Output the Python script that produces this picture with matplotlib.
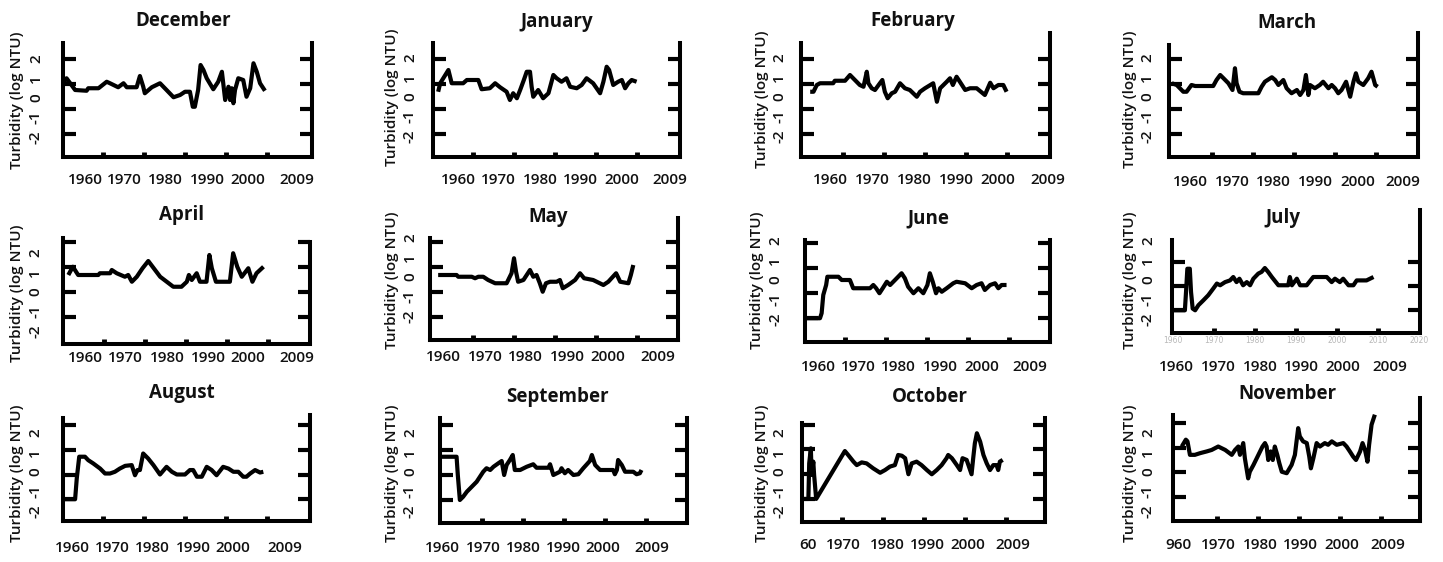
import matplotlib
matplotlib.use("Agg")
import matplotlib.pyplot as plt

W, H = 1443, 562

# ---- turbidity series (year, log NTU) for each month ----
december_years = [1950.2, 1951.1, 1952.0, 1953.2, 1956.0, 1956.4, 1958.9, 1960.9, 1961.7, 1963.7, 1965.0,
                  1965.8, 1968.2, 1969.0, 1969.8, 1970.2, 1971.9, 1973.9, 1975.5, 1977.2, 1978.8, 1980.0,
                  1981.2, 1981.9, 1982.4, 1983.2, 1983.8, 1984.5, 1985.3, 1986.9, 1988.1, 1989.0, 1989.8,
                  1990.6, 1991.0, 1991.4, 1991.8, 1992.2, 1993.0, 1994.2, 1995.0, 1995.9, 1996.7, 1997.5,
                  1998.3, 1999.5]
december_turbidity = [1.03, 1.23, 1.03, 0.76, 0.73, 0.83, 0.83, 1.09, 1.03, 0.87, 1.03,
                      0.87, 0.87, 1.32, 0.90, 0.63, 0.87, 1.03, 0.76, 0.47, 0.56, 0.69,
                      0.69, 0.09, 0.09, 0.76, 1.76, 1.56, 1.23, 0.79, 1.09, 1.49, 0.36,
                      0.89, 0.36, 0.83, 0.23, 0.76, 1.23, 1.16, 0.49, 0.83, 1.83, 1.49,
                      1.03, 0.73]

january_years = [1951.5, 1952.0, 1954.0, 1954.8, 1957.6, 1958.5, 1961.3, 1962.1, 1964.1, 1965.4, 1966.6,
                 1968.2, 1969.0, 1969.8, 1970.7, 1971.5, 1972.4, 1973.1, 1973.9, 1974.3, 1974.7, 1975.9,
                 1977.1, 1978.4, 1979.6, 1980.4, 1981.6, 1982.8, 1983.7, 1985.3, 1986.5, 1987.7, 1989.3,
                 1991.0, 1991.8, 1992.6, 1993.2, 1994.2, 1995.4, 1996.3, 1997.1, 1997.9, 1998.7, 1999.9]
january_turbidity = [0.69, 1.03, 1.56, 1.03, 1.03, 1.16, 1.16, 0.79, 0.83, 1.03, 0.87,
                     0.69, 0.36, 0.63, 0.43, 0.76, 1.16, 1.49, 1.49, 0.89, 0.49, 0.76,
                     0.43, 0.63, 1.36, 1.23, 1.09, 1.23, 0.89, 0.83, 0.96, 1.23, 1.03,
                     0.63, 1.09, 1.69, 1.56, 0.96, 1.09, 1.16, 0.83, 1.03, 1.16, 1.09]

february_years = [1952.0, 1952.8, 1953.6, 1954.4, 1957.6, 1958.0, 1960.5, 1961.7, 1962.9, 1964.1, 1965.0,
                  1965.8, 1966.2, 1967.0, 1967.8, 1969.0, 1969.6, 1970.2, 1970.9, 1971.9, 1972.7, 1973.9,
                  1975.1, 1976.3, 1978.0, 1978.8, 1980.0, 1982.0, 1982.9, 1983.7, 1985.3, 1986.1, 1986.8,
                  1987.7, 1988.5, 1989.8, 1991.0, 1992.6, 1994.6, 1995.9, 1996.7, 1997.9, 1999.1, 1999.9]
february_turbidity = [0.69, 0.69, 0.96, 1.03, 1.03, 1.13, 1.13, 1.36, 1.16, 0.96, 0.89,
                      1.49, 1.03, 0.83, 0.76, 1.03, 1.16, 0.69, 0.43, 0.63, 0.69, 1.03,
                      0.83, 0.76, 0.49, 0.69, 0.83, 1.03, 0.29, 0.83, 1.09, 1.23, 0.96,
                      1.29, 1.09, 0.76, 0.83, 0.83, 0.56, 1.05, 0.83, 0.96, 0.96, 0.69]

march_years = [1950.2, 1951.4, 1953.0, 1953.8, 1955.0, 1955.9, 1960.3, 1961.1, 1962.0, 1962.8, 1964.0,
               1965.0, 1965.6, 1966.0, 1966.7, 1967.6, 1971.3, 1972.1, 1972.9, 1974.6, 1975.4, 1976.2,
               1977.4, 1978.2, 1979.4, 1980.7, 1981.5, 1982.3, 1982.9, 1983.5, 1983.9, 1985.1, 1986.3,
               1987.1, 1988.4, 1989.2, 1990.0, 1990.8, 1991.6, 1992.7, 1993.7, 1994.5, 1995.1, 1995.7,
               1996.9, 1998.1, 1998.9, 1999.8, 2000.4]
march_turbidity = [1.03, 0.96, 0.69, 0.69, 0.96, 0.92, 0.92, 1.16, 1.36, 1.23, 1.03,
                   0.76, 1.63, 1.03, 0.69, 0.63, 0.63, 0.89, 1.09, 1.27, 1.16, 0.96,
                   1.16, 0.83, 0.63, 0.76, 0.56, 0.76, 1.36, 0.56, 0.96, 0.83, 0.96,
                   1.09, 0.83, 0.96, 0.83, 0.63, 0.76, 1.09, 0.49, 1.09, 1.43, 1.09,
                   0.96, 1.23, 1.49, 0.96, 0.89]

april_years = [1951.3, 1952.4, 1953.7, 1958.6, 1959.0, 1961.5, 1961.9, 1963.1, 1965.1, 1965.9, 1966.8,
               1968.0, 1969.4, 1970.8, 1973.7, 1975.3, 1976.9, 1978.9, 1980.2, 1980.7, 1981.4, 1982.6,
               1983.4, 1985.0, 1985.7, 1986.3, 1987.3, 1990.7, 1991.5, 1992.5, 1993.6, 1995.2, 1996.2,
               1997.2, 1998.9]
april_turbidity = [0.68, 1.01, 0.68, 0.68, 0.75, 0.75, 0.88, 0.75, 0.61, 0.68, 0.41,
                   0.61, 0.95, 1.24, 0.61, 0.41, 0.21, 0.21, 0.41, 0.68, 0.48, 0.75,
                   0.41, 0.41, 1.48, 0.95, 0.41, 0.41, 1.55, 1.01, 0.61, 0.95, 0.41,
                   0.75, 1.01]

may_years = [1951.5, 1956.0, 1956.4, 1959.7, 1960.5, 1961.3, 1962.5, 1963.7, 1965.4, 1968.2, 1969.4,
             1970.0, 1970.5, 1971.0, 1972.3, 1973.9, 1974.7, 1975.5, 1976.3, 1977.0, 1977.8, 1978.8,
             1980.4, 1981.2, 1981.9, 1983.2, 1984.9, 1986.1, 1987.1, 1989.3, 1991.8, 1993.0, 1994.9,
             1995.9, 1997.9, 1998.5, 1999.1]
may_turbidity = [0.68, 0.68, 0.61, 0.61, 0.55, 0.61, 0.61, 0.48, 0.35, 0.35, 0.75,
                 1.35, 0.81, 0.41, 0.48, 0.88, 0.61, 0.68, 0.35, 0.01, 0.35, 0.41,
                 0.41, 0.48, 0.15, 0.28, 0.48, 0.75, 0.55, 0.48, 0.28, 0.41, 0.75,
                 0.41, 0.35, 0.68, 1.08]

june_years = [1950.2, 1953.9, 1954.3, 1954.7, 1955.4, 1955.7, 1958.4, 1959.2, 1961.2, 1962.0, 1966.1,
              1966.9, 1967.6, 1968.4, 1969.2, 1970.2, 1971.0, 1972.2, 1973.8, 1974.6, 1975.4, 1976.7,
              1977.9, 1979.1, 1980.1, 1980.7, 1981.4, 1982.2, 1982.8, 1983.6, 1984.8, 1986.4, 1987.2,
              1989.3, 1990.9, 1992.1, 1993.3, 1994.1, 1995.4, 1996.6, 1997.4, 1998.2, 1999.4]
june_turbidity = [-1.01, -1.01, -0.81, -0.08, 0.32, 0.65, 0.65, 0.52, 0.52, 0.19, 0.19,
                  0.32, 0.19, -0.01, 0.19, 0.45, 0.32, 0.52, 0.79, 0.59, 0.25, -0.01,
                  0.19, -0.01, 0.32, 0.79, 0.45, -0.01, 0.19, 0.05, 0.19, 0.39, 0.45,
                  0.39, 0.19, 0.32, 0.39, 0.12, 0.32, 0.39, 0.19, 0.32, 0.32]

july_years = [1959.7, 1962.9, 1963.2, 1963.5, 1964.1, 1964.4, 1964.8, 1965.4, 1966.2, 1967.4, 1968.6,
              1969.8, 1970.7, 1971.5, 1972.7, 1973.9, 1974.7, 1975.5, 1976.2, 1977.1, 1978.0, 1978.8,
              1979.6, 1980.8, 1981.6, 1982.4, 1983.2, 1984.1, 1985.7, 1988.1, 1988.5, 1989.0, 1990.2,
              1991.0, 1992.6, 1994.2, 1997.5, 1998.7, 1999.5, 2000.7, 2001.5, 2002.8, 2004.0, 2004.8,
              2007.2, 2008.9]
july_turbidity = [-1.00, -1.00, -0.18, 0.71, 0.71, -0.25, -0.93, -1.00, -0.79, -0.59, -0.38,
                  -0.11, 0.10, 0.03, 0.16, 0.23, 0.37, 0.16, 0.30, 0.03, 0.16, 0.03,
                  0.30, 0.51, 0.58, 0.74, 0.58, 0.37, 0.03, 0.03, 0.37, 0.03, 0.30,
                  0.03, 0.03, 0.37, 0.37, 0.16, 0.30, 0.16, 0.30, 0.03, 0.03, 0.23,
                  0.23, 0.37]

august_years = [1950.3, 1953.2, 1953.6, 1954.2, 1955.6, 1956.4, 1957.6, 1959.3, 1960.5, 1961.7, 1962.9,
                1964.1, 1965.4, 1967.0, 1967.8, 1968.4, 1969.0, 1969.8, 1971.0, 1972.3, 1973.9, 1975.5,
                1976.8, 1978.0, 1980.0, 1981.2, 1982.0, 1982.9, 1984.1, 1985.3, 1986.5, 1987.7, 1989.3,
                1990.6, 1991.8, 1993.0, 1994.2, 1995.0, 1995.9, 1997.1, 1998.3, 1999.1]
august_turbidity = [-1.00, -1.00, -0.16, 0.72, 0.72, 0.58, 0.45, 0.24, 0.04, 0.04, 0.11,
                    0.24, 0.35, 0.38, -0.03, 0.18, 0.18, 0.85, 0.65, 0.38, 0.00, 0.31,
                    0.11, 0.00, 0.00, 0.18, 0.18, -0.09, -0.09, 0.31, 0.18, -0.03, 0.31,
                    0.24, 0.11, 0.11, -0.09, -0.09, 0.04, 0.18, 0.08, 0.11]

september_years = [1950.2, 1953.8, 1954.1, 1954.6, 1955.4, 1956.3, 1957.5, 1958.7, 1959.5, 1960.3, 1961.1,
                   1962.0, 1962.8, 1964.0, 1964.8, 1965.4, 1966.0, 1966.8, 1967.5, 1968.0, 1969.3, 1970.9,
                   1972.5, 1973.3, 1976.2, 1976.6, 1977.4, 1979.0, 1979.4, 1980.2, 1981.0, 1982.3, 1983.5,
                   1984.7, 1986.3, 1986.8, 1987.6, 1988.8, 1992.0, 1992.4, 1992.9, 1993.2, 1994.1, 1994.9,
                   1996.9, 1997.7, 1998.5, 1998.9]
september_turbidity = [0.73, 0.73, 0.00, -1.00, -0.87, -0.67, -0.47, -0.27, -0.07, 0.13, 0.27,
                       0.20, 0.33, 0.47, 0.56, 0.00, 0.40, 0.60, 0.80, 0.20, 0.20, 0.33,
                       0.43, 0.29, 0.29, 0.43, 0.00, 0.13, 0.27, 0.07, 0.20, 0.00, 0.03,
                       0.27, 0.56, 0.80, 0.40, 0.20, 0.20, 0.03, 0.20, 0.60, 0.40, 0.13,
                       0.13, 0.03, 0.07, 0.20]

october_years = [1950.2, 1951.8, 1952.0, 1952.4, 1952.6, 1953.0, 1953.2, 1953.7, 1960.7, 1961.5, 1962.8,
                 1963.6, 1964.8, 1966.0, 1967.6, 1969.3, 1970.5, 1971.7, 1972.9, 1973.7, 1974.6, 1975.4,
                 1976.2, 1977.0, 1978.2, 1979.4, 1980.7, 1981.9, 1983.1, 1984.3, 1985.5, 1985.9, 1986.8,
                 1988.0, 1988.8, 1989.4, 1990.4, 1991.6, 1992.0, 1992.4, 1992.9, 1993.7, 1994.5, 1995.3,
                 1996.1, 1996.9, 1997.7, 1998.1, 1998.5, 1999.2]
october_turbidity = [-1.01, -1.01, 0.43, 1.04, -0.04, 0.50, -0.04, -1.01, 0.93, 0.77, 0.50,
                     0.36, 0.47, 0.43, 0.23, 0.05, 0.16, 0.30, 0.36, 0.77, 0.74, 0.64,
                     -0.01, 0.43, 0.50, 0.36, 0.16, -0.01, 0.16, 0.36, 0.64, 0.77, 0.64,
                     0.36, 0.16, 0.64, 0.57, -0.01, 0.64, 1.24, 1.65, 1.31, 0.77, 0.43,
                     0.16, 0.36, 0.36, 0.16, 0.50, 0.57]

november_years = [1951.4, 1952.4, 1952.8, 1953.4, 1954.6, 1955.9, 1957.5, 1958.7, 1960.3, 1962.0, 1963.6,
                  1964.4, 1965.2, 1965.6, 1966.4, 1966.8, 1967.2, 1967.6, 1968.0, 1968.9, 1970.1, 1971.1,
                  1971.7, 1972.1, 1972.5, 1973.1, 1973.6, 1974.1, 1974.7, 1975.2, 1975.8, 1977.0, 1978.2,
                  1979.0, 1979.4, 1979.8, 1980.2, 1981.0, 1981.9, 1982.5, 1982.9, 1983.5, 1984.3, 1985.1,
                  1986.3, 1987.1, 1988.0, 1989.2, 1990.8, 1991.6, 1992.4, 1993.2, 1993.9, 1994.9, 1995.5,
                  1996.1, 1996.7, 1997.1, 1997.7, 1998.5]
november_turbidity = [1.04, 1.32, 1.25, 0.70, 0.70, 0.77, 0.84, 0.90, 1.04, 0.90, 0.70,
                      0.90, 1.04, 0.70, 1.18, 0.56, 0.15, -0.26, 0.01, 0.29, 0.70, 1.04,
                      1.18, 1.04, 0.49, 0.84, 0.49, 1.04, 0.70, 0.36, 0.01, -0.05, 0.29,
                      0.70, 1.25, 1.79, 1.45, 1.25, 1.18, 0.63, 0.15, 0.56, 1.18, 1.04,
                      1.18, 1.11, 1.25, 1.11, 1.18, 1.04, 0.84, 0.63, 0.49, 0.84, 1.18,
                      0.90, 0.42, 1.11, 1.93, 2.34]

month_names = ["December", "January", "February", "March",
               "April", "May", "June", "July",
               "August", "September", "October", "November"]
series = [(december_years, december_turbidity), (january_years, january_turbidity),
          (february_years, february_turbidity), (march_years, march_turbidity),
          (april_years, april_turbidity), (may_years, may_turbidity),
          (june_years, june_turbidity), (july_years, july_turbidity),
          (august_years, august_turbidity), (september_years, september_turbidity),
          (october_years, october_turbidity), (november_years, november_turbidity)]

y_tick_values = [2, 1, 0, -1]
y_number_labels = ["2", "1", "0", "-1", "-2"]
x_row_labels = ["1960", "1970", "1980", "1990", "2000", "2009"]

# ---- panel geometry in pixels ----
# L, R, top of left spine, top of right spine, bottom, pixel of y=0, px per unit,
# pixel of first decade tick, year of first decade tick, px per decade
boxes = [
    (63, 312, 43, 43, 157, 109, 25.0, 103, 1960, 41),
    (433, 680, 43, 43, 157, 109, 25.0, 473, 1960, 41),
    (801, 1050, 43, 33, 157, 109, 25.0, 843, 1960, 41),
    (1169, 1418, 45, 33, 157, 109, 25.0, 1212, 1960, 41),
    (63, 310, 238, 242, 344, 292, 25.0, 104, 1960, 41),
    (430, 678, 238, 218, 340, 292, 25.0, 473, 1960, 41),
    (805, 1050, 240, 240, 342, 293, 25.0, 845, 1960, 41),
    (1172, 1420, 240, 210, 333, 286, 24.3, 1214, 1970, 41),
    (63, 310, 418, 415, 521, 474.5, 24.7, 103, 1960, 41),
    (440, 687, 418, 418, 523, 475, 25.0, 482, 1960, 41),
    (802, 1045, 423, 418, 522, 474, 24.7, 842, 1960, 41),
    (1173, 1420, 415, 398, 521, 472, 24.5, 1217, 1960, 41),
]
# title centre, "Turbidity" label centre, number column centre
title_pos = [(183, 21), (557, 22), (913, 21), (1287, 23),
             (182, 215), (548, 217), (928, 218), (1283, 218),
             (182, 393), (557, 397), (930, 397), (1287, 394)]
ylabel_pos = [(17, 100), (392, 97), (762, 99), (1130, 99),
              (17, 293), (392, 280), (757, 280), (1130, 280),
              (17, 473), (392, 473), (762, 473), (1130, 473)]
number_pos = [(36, 98), (410, 97), (779, 97), (1147, 97),
              (35, 292), (410, 277), (775, 280), (1148, 280),
              (35, 472), (410, 472), (779, 472), (1148, 472)]
# year row under each panel: centres of the six labels and row height
row_x = [[85, 124, 165, 207, 248, 297], [458, 498, 540, 580, 622, 670],
         [830, 872, 914, 956, 998, 1048], [1190, 1232, 1273, 1315, 1358, 1403],
         [85, 125, 167, 208, 248, 297], [443, 485, 525, 567, 608, 658],
         [818, 858, 898, 940, 982, 1030], [1176, 1218, 1260, 1301, 1343, 1390],
         [72, 112, 152, 193, 233, 285], [442, 483, 523, 563, 603, 652],
         [808, 843, 887, 927, 968, 1013], [1178, 1218, 1260, 1300, 1342, 1388]]
row_y = [180, 180, 180, 182, 358, 357, 367, 367, 548, 548, 545, 545]
first_label_override = {10: "60", 11: "960"}

FONT = ["Open Sans", "DejaVu Sans"]
INK = "#111111"
LW_SPINE = 2.9
LW_LINE = 3.0
LABEL_SIZE = 11
TITLE_SIZE = 13.5

fig = plt.figure(figsize=(W / 100, H / 100), dpi=100)
fig.patch.set_facecolor("white")


def fx(x):
    return x / W


def fy(y):
    return 1 - y / H


for i, name in enumerate(month_names):
    L, R, TL, TR, B, y0, ppu, t0, t0_year, step = boxes[i]
    top = min(TL, TR)
    ax = fig.add_axes([fx(L), fy(B), (R - L) / W, (B - top) / H])
    x_left = t0_year + (L - t0) / step * 10
    x_right = t0_year + (R - t0) / step * 10
    y_bottom = (y0 - B) / ppu
    y_top = (y0 - top) / ppu
    ax.set_xlim(x_left, x_right)
    ax.set_ylim(y_bottom, y_top)

    years, vals = series[i]
    ax.plot(years, vals, color="black", lw=LW_LINE, solid_joinstyle="round",
            solid_capstyle="butt")

    for side in ("left", "right", "bottom"):
        ax.spines[side].set_linewidth(LW_SPINE)
        ax.spines[side].set_color("black")
    ax.spines["top"].set_visible(False)
    ax.spines["left"].set_bounds(y_bottom, (y0 - TL) / ppu)
    ax.spines["right"].set_bounds(y_bottom, (y0 - TR) / ppu)

    yt = [v for v in y_tick_values if y_bottom < v <= max((y0 - TL) / ppu, (y0 - TR) / ppu)]
    if i == 7:
        yt = [1, 0, -1]
    ax.set_yticks(yt)
    ax.tick_params(axis="y", which="major", direction="in", left=True, right=True,
                   length=9, width=3, labelleft=False, labelright=False, color="black")
    xt = [t0_year + 10 * k for k in range(5)]
    ax.set_xticks(xt)
    ax.tick_params(axis="x", which="major", direction="in", length=3.5, width=3.5,
                   color="black", labelbottom=False)
    if i == 7:
        faint = [1960, 1970, 1980, 1990, 2000, 2010, 2020]
        ax.set_xticks(faint)
        ax.set_xticklabels([str(v) for v in faint])
        ax.tick_params(axis="x", labelbottom=True, labelsize=5.5, labelcolor="#b8b8b8", pad=2)
        for t, v in zip(ax.xaxis.get_major_ticks(), faint):
            if v in (1960, 2020):
                t.tick1line.set_visible(False)
    ax.patch.set_alpha(0)

    tx, ty = title_pos[i]
    fig.text(fx(tx), fy(ty), name, ha="center", va="center", fontsize=TITLE_SIZE,
             fontweight="bold", family=FONT, color=INK)
    lx, ly = ylabel_pos[i]
    fig.text(fx(lx), fy(ly), "Turbidity (log NTU)", rotation=90, ha="center", va="center",
             fontsize=LABEL_SIZE, family=FONT, color=INK, fontweight="semibold")
    nx, ny = number_pos[i]
    for k, lab in enumerate(y_number_labels):
        fig.text(fx(nx), fy(ny - 39 + 19.5 * k), lab, rotation=90, ha="center", va="center",
                 fontsize=LABEL_SIZE, family=FONT, color=INK, fontweight="semibold")
    for k, lab in enumerate(x_row_labels):
        if k == 0 and i in first_label_override:
            lab = first_label_override[i]
        fig.text(fx(row_x[i][k]), fy(row_y[i]), lab, ha="center", va="center",
                 fontsize=LABEL_SIZE, family=FONT, color=INK, fontweight="semibold")

fig.savefig("out.png", dpi=100, facecolor="white")
